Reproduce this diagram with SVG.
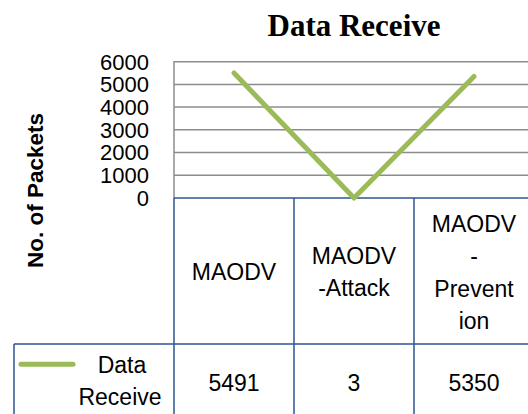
<svg xmlns="http://www.w3.org/2000/svg" width="528" height="414" viewBox="0 0 528 414">
  <style>
    .title { font-family: "Liberation Serif", "Times New Roman", serif; font-weight: bold; font-size: 31px; fill: #000; }
    .axis { font-family: "Liberation Sans", Arial, sans-serif; font-size: 22px; fill: #000; }
    .axtitle { font-family: "Liberation Sans", Arial, sans-serif; font-weight: bold; font-size: 22.5px; fill: #000; }
    .cell { font-family: "Liberation Sans", Arial, sans-serif; font-size: 23px; fill: #000; text-anchor: middle; }
    .grid { stroke: #8c8c8c; stroke-width: 1.5; fill: none; }
    .tbl { stroke: #2c5391; stroke-width: 1.5; fill: none; }
    .series { stroke: #9bbb59; stroke-width: 5; stroke-linecap: round; stroke-linejoin: round; fill: none; }
  </style>
  <rect width="528" height="414" fill="#fff"/>

  <text class="title" x="354" y="36" text-anchor="middle">Data Receive</text>

  <!-- value axis title -->
  <text class="axtitle" transform="translate(43,190.5) rotate(-90)" text-anchor="middle">No. of Packets</text>

  <!-- gridlines -->
  <g id="gridlines">
    <line class="grid" x1="174" y1="61.7" x2="528" y2="61.7"/>
    <line class="grid" x1="174" y1="84.4" x2="528" y2="84.4"/>
    <line class="grid" x1="174" y1="107.1" x2="528" y2="107.1"/>
    <line class="grid" x1="174" y1="129.8" x2="528" y2="129.8"/>
    <line class="grid" x1="174" y1="152.5" x2="528" y2="152.5"/>
    <line class="grid" x1="174" y1="175.2" x2="528" y2="175.2"/>
    <line class="grid" x1="174" y1="61" x2="174" y2="198"/>
  </g>

  <!-- value axis labels -->
  <g id="axis-labels" class="axis" text-anchor="end">
    <text x="149" y="69.6">6000</text>
    <text x="149" y="92.3">5000</text>
    <text x="149" y="115">4000</text>
    <text x="149" y="137.7">3000</text>
    <text x="149" y="160.4">2000</text>
    <text x="149" y="183.1">1000</text>
    <text x="149" y="205.8">0</text>
  </g>

  <!-- data table -->
  <g id="table">
    <line class="tbl" x1="174" y1="198" x2="528" y2="198"/>
    <line class="tbl" x1="14" y1="344" x2="528" y2="344"/>
    <line class="tbl" x1="174" y1="198" x2="174" y2="414"/>
    <line class="tbl" x1="294" y1="198" x2="294" y2="414"/>
    <line class="tbl" x1="414" y1="198" x2="414" y2="414"/>
    <line class="tbl" x1="14" y1="344" x2="14" y2="414"/>
  </g>

  <g id="cat-MAODV">
    <text class="cell" x="234" y="279.5">MAODV</text>
    <text class="cell" x="234" y="391">5491</text>
  </g>
  <g id="cat-MAODV-Attack">
    <text class="cell" x="354" y="263.5">MAODV</text>
    <text class="cell" x="354" y="296">-Attack</text>
    <text class="cell" x="354" y="391">3</text>
  </g>
  <g id="cat-MAODV-Prevention">
    <text class="cell" x="474" y="231.5">MAODV</text>
    <text class="cell" x="474" y="264">-</text>
    <text class="cell" x="474" y="296.5">Prevent</text>
    <text class="cell" x="474" y="329">ion</text>
    <text class="cell" x="474" y="391">5350</text>
  </g>

  <g id="legend">
    <line class="series" x1="21" y1="364.3" x2="73" y2="364.3" stroke-width="4.5"/>
    <text class="cell" x="122" y="372.5">Data</text>
    <text class="cell" x="120" y="405">Receive</text>
  </g>

  <!-- series line -->
  <g id="connectors">
    <polyline class="series" points="234,73 354,198 474,76.5"/>
  </g>
</svg>
